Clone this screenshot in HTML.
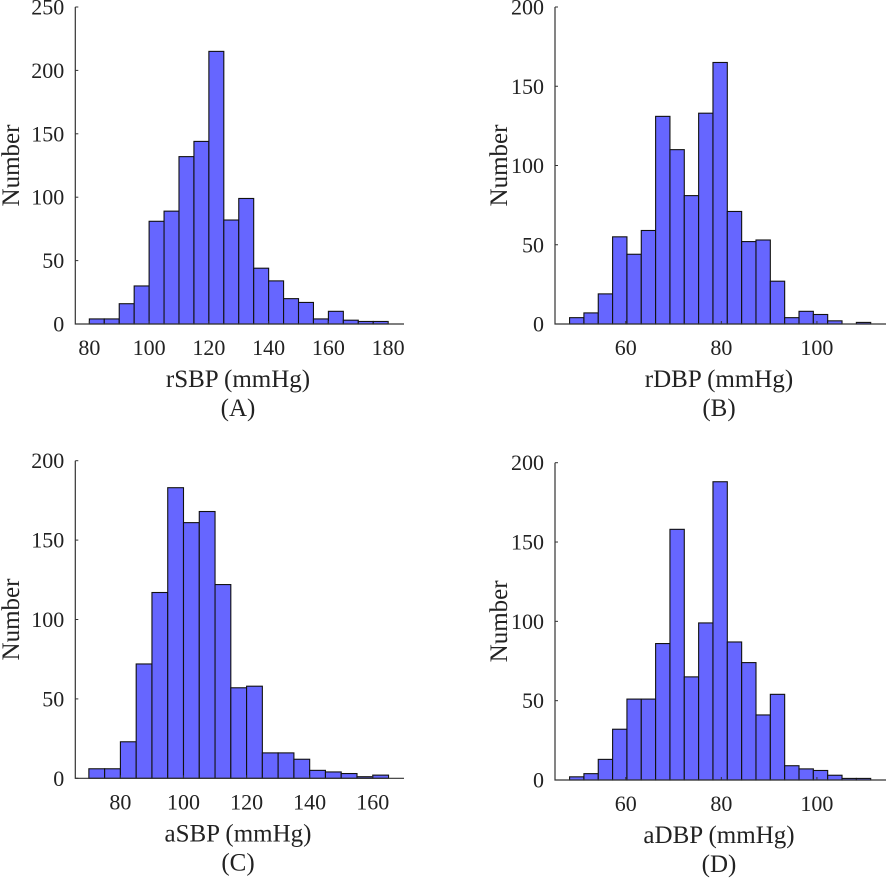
<!DOCTYPE html>
<html><head><meta charset="utf-8"><style>
body{margin:0;background:#fff}
svg{display:block}
text{font-family:"Liberation Serif",serif;fill:#222}
</style></head><body>
<svg id="fig" width="886" height="879"></svg>
<script>
// Panel A: rSBP
const aStart = 80, aWidth = 5;
const aCounts = [4,4,16,30,81,89,132,144,215,82,99,44,34,20,17,4,10,3,2,2];
const aXTicks = [80,100,120,140,160,180];
const aYTicks = [0,50,100,150,200,250];
// Panel B: rDBP
const bStart = 48.25, bWidth = 3;
const bCounts = [4,7,19,55,44,59,131,110,81,133,165,71,52,53,27,4,8,6,2,0,1];
const bXTicks = [60,80,100];
const bYTicks = [0,50,100,150,200];
// Panel C: aSBP
const cStart = 70, cWidth = 5;
const cCounts = [6,6,23,72,117,183,161,168,122,57,58,16,16,12,5,4,3,1,2];
const cXTicks = [80,100,120,140,160];
const cYTicks = [0,50,100,150,200];
// Panel D: aDBP
const dStart = 48.25, dWidth = 3;
const dCounts = [2,4,13,32,51,51,86,158,65,99,188,87,74,41,54,9,7,6,3,1,1];
const dXTicks = [60,80,100];
const dYTicks = [0,50,100,150,200];

const NS = "http://www.w3.org/2000/svg";
const svg = document.getElementById('fig');
function mk(tag, attrs, parent){
  const e = document.createElementNS(NS, tag);
  for (const k in attrs) e.setAttribute(k, attrs[k]);
  (parent||svg).appendChild(e);
  return e;
}
function panel(cfg){
  const g = mk('g', {});
  
  
  const sx = v => cfg.x0 + (v - cfg.xmin) * (cfg.x1 - cfg.x0) / (cfg.xmax - cfg.xmin);
  const sy = v => cfg.y0 - v * (cfg.y0 - cfg.y1) / cfg.ymax;
  cfg.counts.forEach((c, i) => {
    if (c <= 0) return;
    const l = sx(cfg.start + i * cfg.width), r = sx(cfg.start + (i + 1) * cfg.width);
    const b = mk('rect', {x: l, y: sy(c), width: r - l, height: sy(0) - sy(c), fill: '#6666ff', stroke: '#111', 'stroke-width': 1.1}, g);
    
    
  });
  const ax = mk('path', {d: `M${cfg.x0},${cfg.y1}V${cfg.y0}H${cfg.x1}`, fill: 'none', stroke: '#333', 'stroke-width': 1.2}, g);
  
  
  cfg.yTicks.forEach(t => {
    const y = sy(t);
    mk('line', {x1: cfg.x0, x2: cfg.x0 + 3, y1: y, y2: y, stroke: '#333', 'stroke-width': 1}, g);
    const tx = mk('text', {x: cfg.x0 - 11, y: y + 7.5, 'text-anchor': 'end', 'font-size': 22}, g);
    tx.textContent = t;
    
    
  });
  cfg.xTicks.forEach(t => {
    const x = sx(t);
    mk('line', {x1: x, x2: x, y1: cfg.y0, y2: cfg.y0 - 3, stroke: '#333', 'stroke-width': 1}, g);
    const tx = mk('text', {x: x, y: cfg.y0 + 31, 'text-anchor': 'middle', 'font-size': 22}, g);
    tx.textContent = t;
    
    
  });
  const xl = mk('text', {x: cfg.xlx, y: cfg.y0 + 63, 'text-anchor': 'middle', 'font-size': 25}, g);
  xl.textContent = cfg.xlabel;
  
  
  const cap = mk('text', {x: cfg.xlx, y: cfg.y0 + 92, 'text-anchor': 'middle', 'font-size': 25}, g);
  cap.textContent = cfg.caption;
  
  
  const yc = (cfg.y0 + cfg.y1) / 2;
  const yl = mk('text', {x: cfg.ylx, y: yc, 'text-anchor': 'middle', 'font-size': 25, transform: `rotate(-90 ${cfg.ylx} ${yc})`}, g);
  yl.textContent = 'Number';
  
  
}
panel({id:'a', start:aStart, width:aWidth, counts:aCounts, xTicks:aXTicks, yTicks:aYTicks,
  x0:75.3, x1:404, xmin:75.3, xmax:185.3, y0:324, y1:7, ymax:250,
  xlx:238, ylx:19, xlabel:'rSBP (mmHg)', caption:'(A)'});
panel({id:'b', start:bStart, width:bWidth, counts:bCounts, xTicks:bXTicks, yTicks:bYTicks,
  x0:555, x1:886, xmin:45.2, xmax:114.45, y0:324, y1:7, ymax:200,
  xlx:719, ylx:507, xlabel:'rDBP (mmHg)', caption:'(B)'});
panel({id:'c', start:cStart, width:cWidth, counts:cCounts, xTicks:cXTicks, yTicks:cYTicks,
  x0:75.3, x1:404, xmin:65.7, xmax:169.9, y0:778.3, y1:460.7, ymax:200,
  xlx:238, ylx:19, xlabel:'aSBP (mmHg)', caption:'(C)'});
panel({id:'d', start:dStart, width:dWidth, counts:dCounts, xTicks:dXTicks, yTicks:dYTicks,
  x0:555, x1:886, xmin:45.2, xmax:114.45, y0:780, y1:462.7, ymax:200,
  xlx:719, ylx:507, xlabel:'aDBP (mmHg)', caption:'(D)'});
</script>
</body></html>
